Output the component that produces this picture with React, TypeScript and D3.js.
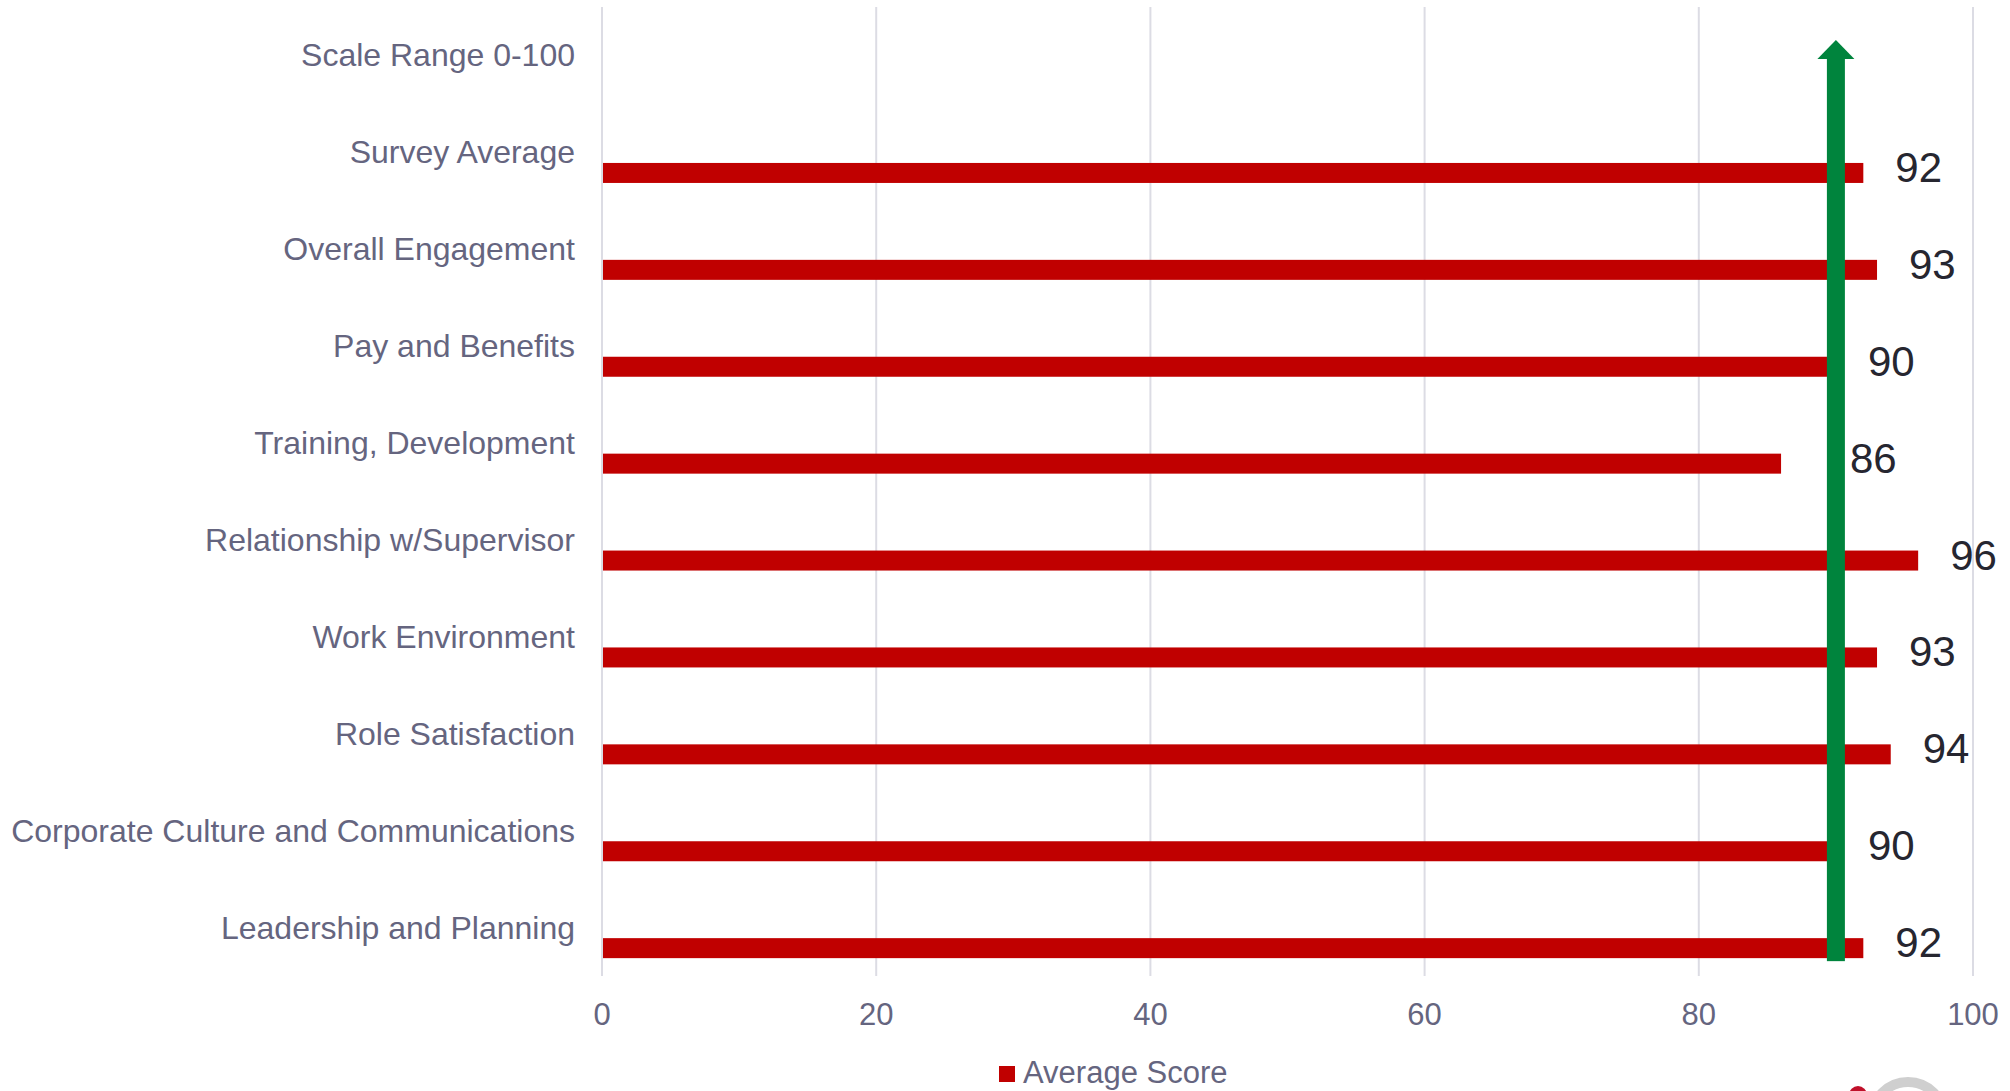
import React from "react";
import * as d3 from "d3";

const categories: string[] = [
  "Scale Range 0-100",
  "Survey Average",
  "Overall Engagement",
  "Pay and Benefits",
  "Training, Development",
  "Relationship w/Supervisor",
  "Work Environment",
  "Role Satisfaction",
  "Corporate Culture and Communications",
  "Leadership and Planning",
];
const averageScores: (number | null)[] = [null, 92, 93, 90, 86, 96, 93, 94, 90, 92];
const xTicks: number[] = [0, 20, 40, 60, 80, 100];
const targetValue = 90;
const seriesName = "Average Score";

const W = 2010;
const H = 1091;
const M = { left: 602, right: W - 1973, top: 7, bottom: H - 976 };

export default function App() {
  const x = d3.scaleLinear().domain([0, 100]).range([M.left, W - M.right]);
  const y = d3.scaleBand<string>().domain(categories).range([M.top, H - M.bottom]).padding(0);
  const labelColor = "#65657f";
  const font = "'Liberation Sans', Arial, sans-serif";
  const barH = 20;
  const barOffset = 10.6; // bar sits below the band centre
  const arrowX = x(targetValue);
  const shaftW = 18;
  const headW = 37;
  const lastCenter = (y(categories[categories.length - 1]) ?? 0) + y.bandwidth() / 2;
  const arrowBottom = lastCenter + barOffset + barH + 3;
  const arrowTip = 40;
  const headBase = 59;

  return (
    <div style={{ position: "fixed", left: 0, top: 0, width: W, height: H, background: "#fff" }}>
      <svg width={W} height={H} style={{ display: "block" }} fontFamily={font}>
        {/* gridlines */}
        {xTicks.map((t) => (
          <line key={"g" + t} x1={x(t)} x2={x(t)} y1={M.top} y2={H - M.bottom} stroke="#dcdce4" strokeWidth={2} />
        ))}
        {/* tick labels */}
        {xTicks.map((t) => (
          <text key={"t" + t} x={x(t)} y={1025} textAnchor="middle" fontSize={31} fill={labelColor}>
            {t}
          </text>
        ))}
        {/* category labels */}
        {categories.map((c) => {
          const cy = (y(c) ?? 0) + y.bandwidth() / 2;
          return (
            <text key={"c" + c} x={575} y={cy + 11} textAnchor="end" fontSize={32} fill={labelColor}>
              {c}
            </text>
          );
        })}
        {/* bars */}
        {categories.map((c, i) => {
          const v = averageScores[i];
          if (v == null) return null;
          const cy = (y(c) ?? 0) + y.bandwidth() / 2;
          return (
            <rect key={"b" + c} x={x(0) + 1} y={cy + barOffset} width={x(v) - x(0) - 1} height={barH} fill="#c00000" />
          );
        })}
        {/* target arrow */}
        <rect x={arrowX - shaftW / 2} y={headBase - 1} width={shaftW} height={arrowBottom - headBase + 1} fill="#00843d" />
        <path
          d={`M${arrowX - headW / 2},${headBase} L${arrowX},${arrowTip} L${arrowX + headW / 2},${headBase} Z`}
          fill="#00843d"
        />
        {/* data labels */}
        {categories.map((c, i) => {
          const v = averageScores[i];
          if (v == null) return null;
          const cy = (y(c) ?? 0) + y.bandwidth() / 2;
          const left = Math.max(x(v) + 32, arrowX + shaftW / 2 + 5);
          return (
            <text key={"l" + c} x={left} y={cy + barOffset + barH / 2 + 9} fontSize={42} fill="#262630">
              {v}
            </text>
          );
        })}
        {/* legend */}
        <rect x={999} y={1066} width={16} height={16} fill="#c00000" />
        <text x={1023} y={1083} fontSize={31} fill={labelColor}>
          {seriesName}
        </text>
        {/* partial logo at bottom right */}
        <circle cx={1908} cy={1118} r={36} fill="none" stroke="#cfcfcf" strokeWidth={10} />
        <circle cx={1858} cy={1095} r={9} fill="#c0102a" />
        <circle cx={1950} cy={1098} r={6} fill="#c0102a" />
      </svg>
    </div>
  );
}
